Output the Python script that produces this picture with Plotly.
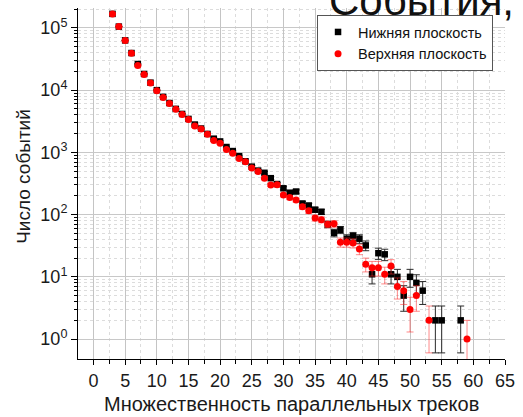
import plotly.graph_objects as go

# Multiplicity of parallel tracks
x_vals = list(range(3, 60))

# Lower plane (black squares)
lower_vals = [168000, 105000, 63000, 39500, 26300, 18200, 13200, 10000, 7800, 6200,
              5000, 4150, 3450, 2800, 2420, 1980, 1660, 1500, 1220, 1050,
              870, 720, 590, 510, 470, 385, 310, 265, 225, 235,
              151, 140, 120, 111, 70, 51, 57, 41, 45, 41,
              32, 11, 24, 23, 11, 10, 5, 10, 8, 6,
              None, 2, 2, None, None, 2, None]
lower_err = [410, 324, 251, 199, 162, 135, 115, 100, 88, 79,
             71, 64, 59, 53, 49, 44, 41, 39, 35, 32,
             29, 27, 24, 23, 22, 20, 18, 16, 15, 15,
             12, 12, 11, 10.5, 8.4, 7.1, 7.5, 6.4, 6.7, 6.4,
             5.7, 3.3, 4.9, 4.8, 3.3, 3.2, 2.2, 3.2, 2.8, 2.4,
             None, 1.4, 1.4, None, None, 1.4, None]

# Upper plane (red circles)
upper_vals = [168000, 105000, 62500, 39000, 25000, 17800, 13000, 9800, 7600, 6100,
              4950, 4050, 3380, 2650, 2380, 1950, 1550, 1400, 1110, 967,
              800, 705, 560, 495, 385, 300, 302, 207, 188, 172,
              134, 115, 88, 83, 70, 71, 36, 36, 35, 28,
              16, 14, 14, 11, 15, 7, 6, 3, 5, None,
              2, None, None, None, None, None, 1]
upper_err = [410, 324, 250, 197, 158, 133, 114, 99, 87, 78,
             70, 64, 58, 51, 49, 44, 39, 37, 33, 31,
             28, 27, 24, 22, 20, 17, 17, 14, 14, 13,
             12, 11, 9.4, 9.1, 8.4, 8.4, 6, 6, 5.9, 5.3,
             4, 3.7, 3.7, 3.3, 3.9, 2.6, 2.4, 1.7, 2.2, None,
             1.4, None, None, None, None, None, 1]
upper_err_lo = upper_err[:-1] + [0.99]

y_tick_vals = [1, 10, 100, 1000, 10000, 100000]
y_tick_text = ["10<sup>0</sup>", "10<sup>1</sup>", "10<sup>2</sup>",
               "10<sup>3</sup>", "10<sup>4</sup>", "10<sup>5</sup>"]
y_minor_vals = [k * d for d in y_tick_vals for k in range(2, 10)]

FONT = "Arial, Liberation Sans, sans-serif"

fig = go.Figure()
fig.add_trace(go.Scatter(
    x=x_vals, y=lower_vals, mode="markers", name="Нижняя плоскость",
    marker=dict(symbol="square", size=6.5, color="black"),
    error_y=dict(type="data", array=lower_err, color="#2a2a2a", thickness=1, width=3.5),
))
fig.add_trace(go.Scatter(
    x=x_vals, y=upper_vals, mode="markers", name="Верхняя плоскость",
    marker=dict(symbol="circle", size=7, color="#ff0000"),
    error_y=dict(type="data", symmetric=False, array=upper_err, arrayminus=upper_err_lo,
                 color="rgba(255,40,40,0.55)", thickness=1, width=3.5),
))

fig.update_layout(
    width=523, height=417, autosize=False,
    margin=dict(l=78, r=12, t=8, b=58),
    paper_bgcolor="white", plot_bgcolor="white",
    font=dict(family=FONT, color="#1a1a1a"),
    showlegend=True,
    legend=dict(x=0.972, xanchor="right", y=0.98, yanchor="top",
                bgcolor="white", bordercolor="#555555", borderwidth=1,
                font=dict(size=14.5, family=FONT, color="#111111"),
                itemwidth=30, tracegroupgap=0),
    xaxis=dict(range=[-2.45, 65], tick0=0, dtick=5, showline=True, linecolor="black",
               linewidth=1, ticks="outside", ticklen=5, tickcolor="black",
               tickfont=dict(size=18), showgrid=True, gridcolor="#c4c4c4", gridwidth=1,
               zeroline=False,
               minor=dict(dtick=2.5, tick0=0, ticks="outside", ticklen=4, tickcolor="black",
                          showgrid=True, gridcolor="#dcdcdc", griddash="dot", gridwidth=1)),
    yaxis=dict(type="log", range=[-0.32, 5.32], tickmode="array", tickvals=y_tick_vals,
               ticktext=y_tick_text, showline=True, linecolor="black", linewidth=1,
               ticks="outside", ticklen=6, tickcolor="black", tickfont=dict(size=18),
               showgrid=True, gridcolor="#c8c8c8", gridwidth=1, zeroline=False,
               minor=dict(tickmode="array", tickvals=y_minor_vals, ticks="outside",
                          ticklen=3, tickcolor="black", showgrid=True,
                          gridcolor="#dcdcdc", griddash="dot", gridwidth=1)),
    annotations=[
        dict(text="Число событий", textangle=-90, xref="paper", yref="paper",
             x=-0.128, y=0.52, xanchor="center", yanchor="middle", showarrow=False,
             font=dict(size=19, family=FONT, color="#1a1a1a")),
        dict(text="Множественность параллельных треков", xref="paper", yref="paper",
             x=0.5, y=-0.127, xanchor="center", yanchor="middle", showarrow=False,
             font=dict(size=20, family=FONT, color="#1a1a1a")),
        dict(text="События,", xref="paper", yref="paper",
             x=(330 - 78) / 433, y=(359 - 26) / 351, xanchor="left", yanchor="bottom",
             showarrow=False, font=dict(size=42, family=FONT, color="#111111")),
    ],
)

fig.write_html("out.html")
